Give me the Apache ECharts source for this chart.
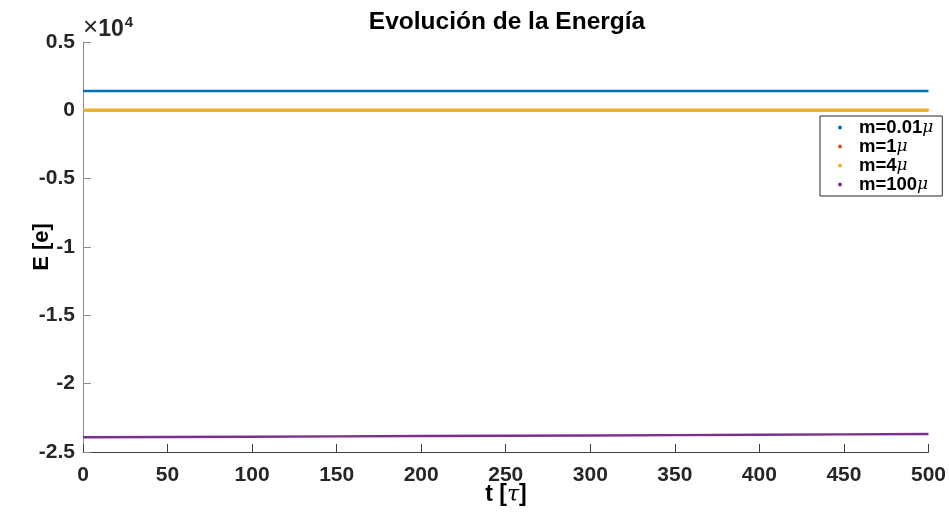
<!DOCTYPE html>
<html>
<head>
<meta charset="utf-8">
<script src="https://cdn.jsdelivr.net/npm/echarts@6/dist/echarts.min.js"></script>
<style>
  html, body { margin: 0; padding: 0; background: #fff; }
  #chart { width: 949px; height: 518px; }
</style>
</head>
<body>
<div id="chart"></div>
<script>
// Sample times (τ)
const times = [0, 50, 100, 150, 200, 250, 300, 350, 400, 450, 500];

// Total energy for each mass ratio
const energyM001 = [1410, 1410, 1410, 1410, 1410, 1410, 1410, 1410, 1410, 1410, 1410];
const energyM1   = [0, 0, 0, 0, 0, 0, 0, 0, 0, 0, 0];
const energyM4   = [40, 40, 40, 40, 40, 40, 40, 40, 40, 40, 40];
const energyM100 = [-23920, -23900, -23880, -23855, -23830, -23810, -23790, -23765, -23740, -23710, -23680];

const seriesNames = ['m=0.01', 'm=1', 'm=4', 'm=100'];
const seriesColors = ['#0072BD', '#D95319', '#EDB120', '#7E2F8E'];
const seriesData = [energyM001, energyM1, energyM4, energyM100];

// Tick values for both axes
const xTicks = { min: 0, max: 500, step: 50 };
const yTicks = { min: -25000, max: 5000, step: 5000, scale: 10000 };

const FONT = '"Liberation Sans", Arial, Helvetica, sans-serif';
const SERIF = '"DejaVu Serif", "Liberation Serif", serif';
const TXT = '#262626';

const chart = echarts.init(document.getElementById('chart'), null, { renderer: 'canvas' });

const series = seriesNames.map((name, i) => ({
  name: name,
  type: 'line',
  data: times.map((t, k) => [t, seriesData[i][k]]),
  showSymbol: false,
  symbol: 'circle',
  symbolSize: 4,
  itemStyle: { color: seriesColors[i] },
  lineStyle: { color: seriesColors[i], width: 2.4 },
  animation: false,
  z: 2 + i
}));

chart.setOption({
  backgroundColor: '#ffffff',
  animation: false,
  grid: { left: 83, right: 19, top: 42, bottom: 66, containLabel: false },
  xAxis: {
    type: 'value',
    min: xTicks.min, max: xTicks.max, interval: xTicks.step,
    axisLine: { show: true, onZero: false, lineStyle: { color: '#404040', width: 1 } },
    axisTick: { show: true, inside: true, length: 8, lineStyle: { color: '#404040' } },
    splitLine: { show: false },
    axisLabel: { color: TXT, fontFamily: FONT, fontWeight: 'bold', fontSize: 21, margin: 13 }
  },
  yAxis: {
    type: 'value',
    min: yTicks.min, max: yTicks.max, interval: yTicks.step,
    axisLine: { show: true, onZero: false, lineStyle: { color: '#8c8c8c', width: 1 } },
    axisTick: { show: true, inside: true, length: 8, lineStyle: { color: '#8c8c8c' } },
    splitLine: { show: false },
    axisLabel: {
      color: TXT, fontFamily: FONT, fontWeight: 'bold', fontSize: 21, margin: 8,
      formatter: v => String(Math.round(v / yTicks.scale * 10) / 10)
    }
  },
  legend: {
    orient: 'vertical',
    left: 820, top: 116,
    padding: [2, 9, 2, 18],
    itemGap: 0,
    itemWidth: 28,
    itemHeight: 4,
    icon: 'circle',
    backgroundColor: '#ffffff',
    borderColor: '#262626',
    borderWidth: 1,
    borderRadius: 0,
    data: seriesNames,
    formatter: n => '{b|' + n + '}{mu|μ}',
    textStyle: {
      color: '#000',
      rich: {
        b: { fontFamily: FONT, fontWeight: 'bold', fontSize: 18.5, color: '#000', lineHeight: 18.5 },
        mu: { fontFamily: SERIF, fontStyle: 'italic', fontSize: 17, color: '#000', lineHeight: 18.5 }
      }
    }
  },
  graphic: [
    {
      type: 'text', silent: true, x: 507, y: 22,
      style: { text: 'Evolución de la Energía', fontFamily: FONT, fontWeight: 'bold', fontSize: 24.5, fill: '#000', align: 'center', verticalAlign: 'middle' }
    },
    {
      type: 'text', silent: true, x: 83, y: 41,
      style: {
        text: '{x|×}{n|10}{e|4}',
        verticalAlign: 'bottom',
        rich: {
          x: { fontFamily: FONT, fontSize: 26, fill: TXT, verticalAlign: 'bottom', lineHeight: 26 },
          n: { fontFamily: FONT, fontWeight: 'bold', fontSize: 23, fill: TXT, verticalAlign: 'bottom', lineHeight: 26 },
          e: { fontFamily: FONT, fontWeight: 'bold', fontSize: 15, fill: TXT, verticalAlign: 'top', lineHeight: 15, padding: [0, 0, 0, 1] }
        }
      }
    },
    {
      type: 'text', silent: true, x: 506, y: 495,
      style: {
        text: '{b|t [}{t|τ}{b|]}',
        align: 'center', verticalAlign: 'middle',
        rich: {
          b: { fontFamily: FONT, fontWeight: 'bold', fontSize: 23, fill: '#000' },
          t: { fontFamily: SERIF, fontStyle: 'italic', fontSize: 22, fill: '#000' }
        }
      }
    },
    {
      type: 'text', silent: true,
      x: 42, y: 247, rotation: Math.PI / 2,
      style: { text: 'E [e]', fontFamily: FONT, fontWeight: 'bold', fontSize: 22, fill: '#000', align: 'center', verticalAlign: 'middle' }
    }
  ],
  series: series
});
</script>
</body>
</html>
